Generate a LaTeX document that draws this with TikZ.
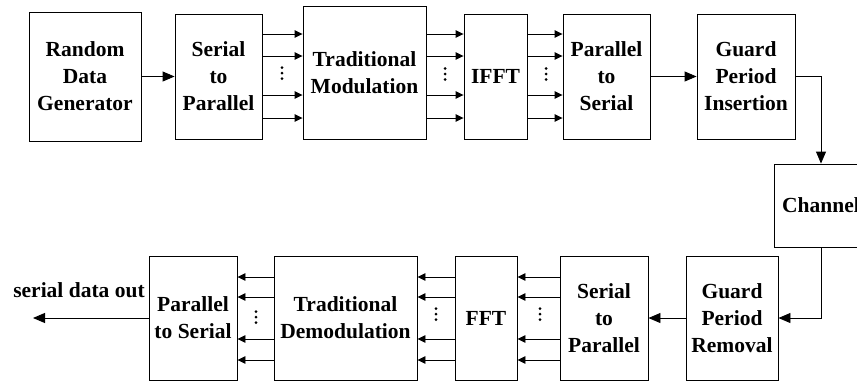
\documentclass[tikz,border=0pt]{standalone}
\usepackage{fontspec}
\setmainfont{Liberation Serif}
\usetikzlibrary{arrows.meta}
\begin{document}
\begin{tikzpicture}[x=1pt,y=-1pt,
  blk/.style={draw=black,line width=0.9pt,rectangle,inner sep=0pt,align=center,
    font={\fontsize{21.5}{27}\selectfont\bfseries}},
  lbl/.style={inner sep=0pt,font={\fontsize{21.5}{27}\selectfont\bfseries}},
  big/.style={line width=0.9pt,-{Triangle[length=12pt,width=10pt]}},
  sml/.style={line width=0.9pt,-{Triangle[length=8pt,width=7.5pt]}},
  dot/.style={fill=black,draw=none}]
\useasboundingbox (0,0) rectangle (857,381);
\clip (0,0) rectangle (857,381);
% top row
\node[blk,minimum width=112pt,minimum height=129pt] (rdg) at (85,76.5) {Random\\Data\\Generator};
\node[blk,minimum width=87pt,minimum height=125pt] (s2p) at (218.5,76.5) {Serial\\to\\Parallel};
\node[blk,minimum width=123pt,minimum height=133pt] (tm) at (364.5,72.5) {Traditional\\Modulation};
\node[blk,minimum width=63pt,minimum height=125pt] (ifft) at (495.5,76.5) {IFFT};
\node[blk,minimum width=87pt,minimum height=125pt] (p2s) at (606.5,76.5) {Parallel\\to\\Serial};
\node[blk,minimum width=98pt,minimum height=125pt] (gpi) at (746,76.5) {Guard\\Period\\Insertion};
% channel
\node[blk,minimum width=94pt,minimum height=83pt] (ch) at (821,205.5) {Channel};
% bottom row
\node[blk,minimum width=92pt,minimum height=124pt] (gpr) at (732,318) {Guard\\Period\\Removal};
\node[blk,minimum width=88pt,minimum height=124pt] (s2pb) at (604,318) {Serial\\to\\Parallel};
\node[blk,minimum width=62pt,minimum height=124pt] (fft) at (486,318) {FFT};
\node[blk,minimum width=143pt,minimum height=124pt] (dem) at (345.5,318) {Traditional\\Demodulation};
\node[blk,minimum width=88pt,minimum height=124pt] (p2sb) at (193,318) {Parallel\\to Serial};
\node[lbl] (out) at (79,290) {serial data out};
\coordinate (outend) at (33,318);
% top connectors
\draw[big] (rdg.east) -- (s2p.west);
\foreach \yy in {34,56,95,118} {
  \draw[sml] (s2p.east |- 0,\yy) -- (tm.west |- 0,\yy);
  \draw[sml] (tm.east |- 0,\yy) -- (ifft.west |- 0,\yy);
  \draw[sml] (ifft.east |- 0,\yy) -- (p2s.west |- 0,\yy);
}
\draw[big] (p2s.east) -- (gpi.west);
\draw[big] (gpi.east) -| (ch.north);
\draw[big] (ch.south) |- (gpr.east);
\draw[big] (gpr.west) -- (s2pb.east);
\foreach \yy in {277,297,339,360} {
  \draw[sml] (s2pb.west |- 0,\yy) -- (fft.east |- 0,\yy);
  \draw[sml] (fft.west |- 0,\yy) -- (dem.east |- 0,\yy);
  \draw[sml] (dem.west |- 0,\yy) -- (p2sb.east |- 0,\yy);
}
\draw[big] (p2sb.west) -- (outend);
% vertical dots
\foreach \xx/\yy in {282/73,445/74,546/74,256/317,436/314,540/314} {
  \foreach \d in {-5.5,0,5.5} \fill[dot] (\xx,\yy+\d) circle (1.5pt);
}
\end{tikzpicture}
\end{document}
